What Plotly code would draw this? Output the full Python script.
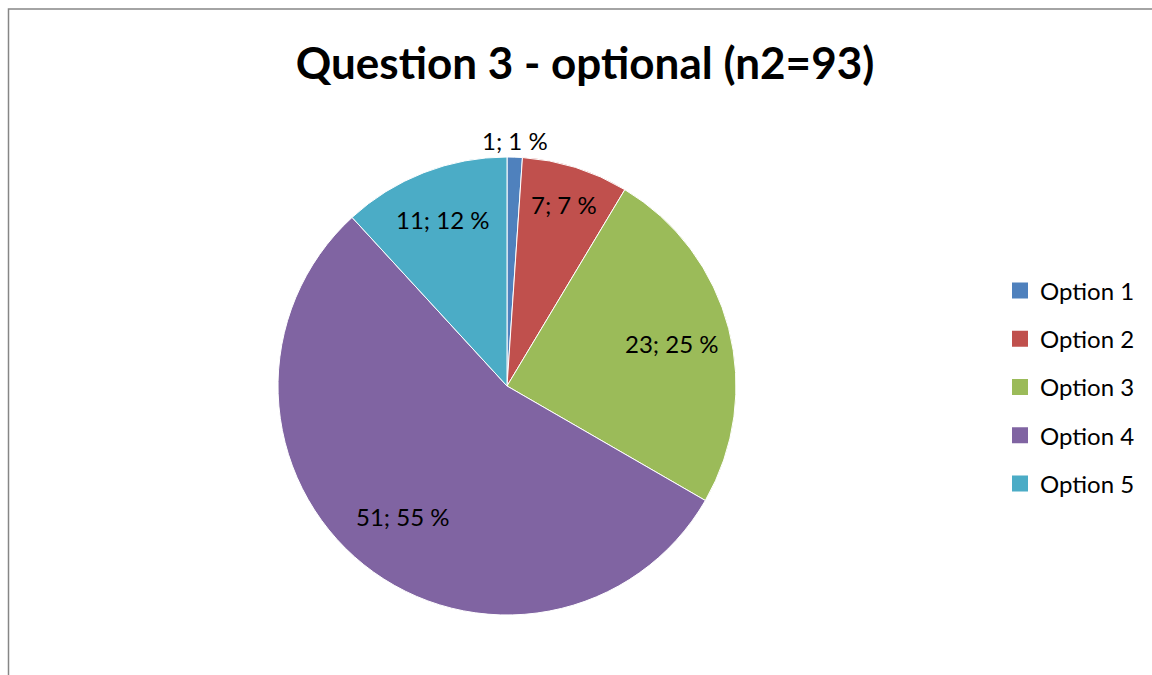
import math
import plotly.graph_objects as go

W, H = 1152, 675

labels = ["Option 1", "Option 2", "Option 3", "Option 4", "Option 5"]
counts = [1, 7, 23, 51, 11]
percents = [1, 7, 25, 55, 12]
colors = ["#4F81BD", "#C0504D", "#9BBB59", "#8064A2", "#4BACC6"]

FONT = "Lato"

# pie geometry in pixels
cx, cy, r = 507, 386, 229
# distance of each data label from the centre, as a fraction of the radius
label_radius = [1.074, 0.83, 0.74, 0.73, 0.78]

slice_text = [f"{c}; {p} %" for c, p in zip(counts, percents)]

fig = go.Figure()
fig.add_trace(go.Pie(
    labels=labels,
    values=counts,
    textinfo="none",
    marker=dict(colors=colors, line=dict(color="#FFFFFF", width=1)),
    sort=False,
    direction="clockwise",
    rotation=0,
    showlegend=False,
    hoverinfo="label+value+percent",
    domain=dict(x=[(cx - r) / W, (cx + r) / W],
                y=[(H - cy - r) / H, (H - cy + r) / H]),
))

# data labels placed along each slice's mid-angle (clockwise from 12 o'clock)
total = sum(counts)
annotations = []
start = 0.0
for c, txt, f in zip(counts, slice_text, label_radius):
    mid = (start + c / 2) / total * 2 * math.pi
    start += c
    px = cx + f * r * math.sin(mid)
    py = cy - f * r * math.cos(mid)
    annotations.append(dict(
        x=px / W, y=(H - py) / H, xref="paper", yref="paper",
        text=txt, showarrow=False, xanchor="center", yanchor="middle",
        font=dict(family=FONT, size=24, color="#000000"),
    ))

# legend entries as square markers, one group each for spacing
for lab, col in zip(labels, colors):
    fig.add_trace(go.Scatter(
        x=[None], y=[None], mode="markers", name=lab,
        marker=dict(symbol="square", size=16, color=col),
        legendgroup=lab, showlegend=True,
    ))

fig.update_layout(
    width=W, height=H,
    margin=dict(l=0, r=0, t=0, b=0),
    paper_bgcolor="#FFFFFF",
    plot_bgcolor="#FFFFFF",
    xaxis=dict(visible=False),
    yaxis=dict(visible=False),
    title=dict(text="<b>Question 3 - optional (n2=93)</b>",
               font=dict(family=FONT, size=44, color="#000000"),
               x=585 / W, xanchor="center", y=1 - 64 / H, yanchor="middle"),
    legend=dict(x=1000 / W, xanchor="left", y=(H - 387) / H, yanchor="middle",
                font=dict(family=FONT, size=24, color="#000000"),
                tracegroupgap=14, itemsizing="trace",
                bgcolor="rgba(0,0,0,0)"),
    annotations=annotations,
    shapes=[dict(type="rect", xref="paper", yref="paper",
                 x0=8.5 / W, x1=1.05, y0=-0.05, y1=1 - 9 / H,
                 line=dict(color="#868686", width=1.5), layer="above")],
    showlegend=True,
)

fig.write_html("out.html")
